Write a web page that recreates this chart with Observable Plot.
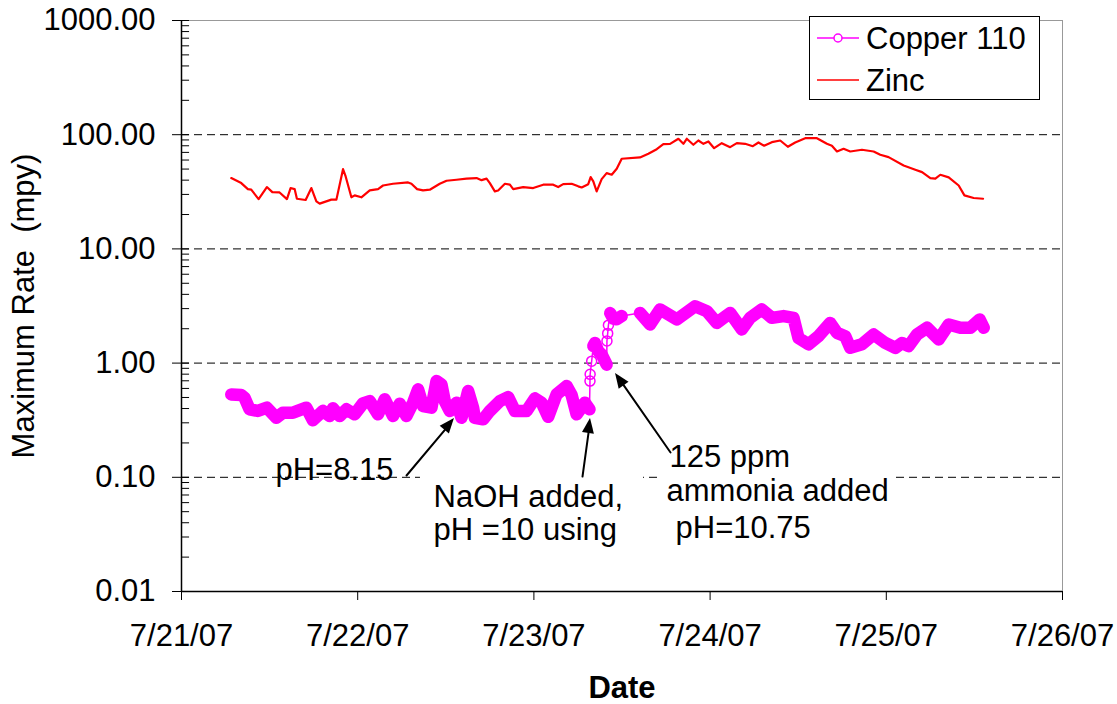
<!DOCTYPE html>
<html><head><meta charset="utf-8">
<script src="https://cdn.jsdelivr.net/npm/d3@7"></script>
<script src="https://cdn.jsdelivr.net/npm/@observablehq/plot@0.6"></script>
<style>body{margin:0;background:#fff} svg{display:block}</style>
</head><body><div id="chart"></div>
<script>
// Time origin: 7/21/07 00:00; series positions are hours after it.
const startMs = Date.UTC(2007, 6, 21);
const dayTicks = ["2007-07-21", "2007-07-22", "2007-07-23", "2007-07-24", "2007-07-25", "2007-07-26"];
const yTicks = [0.01, 0.1, 1, 10, 100, 1000];
const gridValues = [0.1, 1, 10, 100];
const seriesNames = ["Copper 110", "Zinc"];

// Zinc: [hours, mpy]
const zinc = [[6.78,41.7],[8.14,37.7],[9.04,33.4],[9.50,33.0],[10.50,27.3],[11.63,34.8],[12.37,31.4],[13.36,31.2],[14.36,27.3],[14.86,34.1],[15.41,33.4],[15.72,27.5],[16.91,26.8],[17.69,34.1],[18.37,26.1],[18.82,24.9],[20.41,27.0],[21.10,27.0],[22.00,49.9],[22.36,43.1],[23.14,28.3],[23.59,29.4],[24.50,28.3],[25.64,32.5],[26.77,33.4],[27.45,35.9],[28.81,37.2],[30.86,38.2],[31.32,37.2],[32.09,33.4],[32.90,32.5],[33.82,33.0],[35.18,37.2],[36.10,39.5],[37.46,40.3],[38.82,41.2],[40.19,41.7],[40.87,40.0],[41.55,41.2],[42.00,37.7],[42.68,31.9],[43.13,32.5],[44.05,37.2],[44.73,36.5],[45.18,33.4],[46.54,34.8],[47.90,34.1],[49.27,36.5],[50.63,36.5],[51.31,34.8],[51.99,36.9],[53.14,37.2],[54.04,35.3],[54.50,34.5],[55.40,36.9],[55.73,42.5],[56.09,39.0],[56.55,31.9],[57.23,40.8],[57.91,46.1],[58.60,44.6],[59.28,50.3],[59.96,61.6],[62.45,63.2],[63.59,68.1],[64.73,74.7],[65.63,82.6],[66.55,83.2],[67.68,92.1],[68.36,83.2],[68.82,92.1],[69.72,81.6],[70.40,89.0],[71.09,83.2],[71.77,87.2],[72.55,76.2],[73.59,84.3],[74.73,77.8],[75.64,84.3],[76.77,83.2],[77.82,79.3],[78.59,85.5],[79.36,80.0],[80.41,86.0],[81.55,89.0],[82.59,78.4],[83.59,85.5],[84.95,93.2],[86.55,93.2],[87.91,83.2],[88.59,80.0],[89.28,71.3],[90.18,75.3],[91.09,71.3],[92.68,73.8],[94.27,71.3],[95.18,66.7],[96.31,63.6],[98.36,53.8],[99.95,49.3],[100.87,47.0],[102.00,41.7],[102.68,41.2],[103.36,44.6],[104.50,42.3],[105.86,35.9],[106.64,29.4],[107.90,27.9],[109.18,27.5]];

// Copper 110: dense stretches (markers overlap into a band) and sparse jump points
const copperSegA = [[6.78,0.532],[8.14,0.525],[8.59,0.497],[9.27,0.394],[10.40,0.381],[11.63,0.407],[12.91,0.332],[13.81,0.368],[15.18,0.368],[17.00,0.407],[17.90,0.316],[19.27,0.381],[20.18,0.344],[20.63,0.402],[21.55,0.344],[22.46,0.394],[23.59,0.356],[24.72,0.444],[25.64,0.465],[26.77,0.356],[27.68,0.482],[28.81,0.344],[29.73,0.441],[30.64,0.344],[31.54,0.450],[32.22,0.589],[32.90,0.421],[34.05,0.407],[34.73,0.696],[35.41,0.651],[35.86,0.465],[36.54,0.381],[37.46,0.450],[38.14,0.332],[39.04,0.569],[39.72,0.407],[39.95,0.332],[41.09,0.322],[42.00,0.381],[43.36,0.465],[44.49,0.504],[45.41,0.381],[47.00,0.381],[48.14,0.491],[49.05,0.450],[49.95,0.339],[51.09,0.532],[52.46,0.630],[53.14,0.525],[53.82,0.356],[54.95,0.450],[55.57,0.394]];
const copperJump1 = [[55.64,0.696],[55.66,0.797],[55.87,1.04]];
const copperSegB = [[56.09,1.41],[56.32,1.50],[56.77,1.27],[57.23,1.19],[57.91,0.97]];
const copperJump2 = [[57.95,1.56],[58.05,1.82],[58.15,2.15]];
const copperSegC = [[58.40,2.74],[58.80,2.45],[59.28,2.42],[59.96,2.58]];
const copperSegD = [[62.45,2.75],[63.82,2.18],[65.18,2.95],[67.46,2.41],[69.95,3.15],[71.55,2.85],[72.91,2.25],[74.73,2.75],[76.32,1.97],[77.45,2.49],[79.05,2.95],[80.41,2.49],[82.00,2.58],[83.36,2.49],[84.04,1.66],[85.40,1.46],[86.77,1.72],[88.36,2.25],[89.28,1.84],[90.41,1.72],[91.09,1.36],[92.68,1.46],[94.27,1.78],[95.86,1.50],[97.23,1.36],[98.14,1.50],[99.04,1.41],[100.18,1.78],[101.55,2.04],[103.13,1.61],[104.50,2.18],[106.09,2.04],[107.45,2.04],[108.72,2.41],[109.27,2.04]];

// Annotations: [hours, mpy, text]
const noteTexts = [[12.80,0.0956,"pH=8.15"],[34.33,0.0555,"NaOH added,"],[34.33,0.0285,"pH =10 using"],[66.47,0.1243,"125 ppm"],[66.06,0.0626,"ammonia added"],[67.29,0.0297,"pH=10.75"]];
// White text boxes behind two notes: [hours1, hours2, mpyTop, mpyBottom]
const noteBoxes = [[32.55,62.93,0.1194,0.02195],[65.24,97.25,0.2231,0.02195]];
// Arrows: [tailHours, tailMpy, headHours, headMpy]
const noteArrows = [[30.65,0.1037,37.18,0.327],[54.62,0.1016,55.71,0.327],[66.61,0.1649,59.12,0.811]];

const t = h => new Date(startMs + h * 3600e3);
const rows = (arr, seg) => arr.map(([h, v]) => ({date: t(h), value: v, seg}));
const zincRows = rows(zinc);
const denseRows = [...rows(copperSegA,"A"), ...rows(copperSegB,"B"), ...rows(copperSegC,"C"), ...rows(copperSegD,"D")];
const openRows = [...rows(copperJump1), ...rows(copperJump2)];
const copperAll = [...copperSegA, ...copperJump1, ...copperSegB, ...copperJump2, ...copperSegC, ...copperSegD].map(([h,v]) => ({date: t(h), value: v}));
const minorTicks = [];
for (let e = -2; e <= 2; e++) for (let k = 1; k <= 9; k++) minorTicks.push(k * Math.pow(10, e));
minorTicks.push(1000);

const FONT = "'Liberation Sans', Arial, Helvetica, sans-serif";
const plot = Plot.plot({
  width: 1117, height: 704,
  marginLeft: 181, marginRight: 55, marginTop: 20, marginBottom: 113,
  style: {fontFamily: FONT, fontSize: "31px", color: "#000", background: "#fff"},
  x: {type: "utc", domain: [new Date(startMs), t(120)]},
  y: {type: "log", domain: [0.01, 1000]},
  marks: [
    Plot.ruleY(gridValues, {stroke: "#000", strokeWidth: 1, strokeDasharray: "8,5"}),
    Plot.frame({stroke: "#999"}),
    Plot.ruleY(minorTicks, {x1: t(0), x2: t(1.1), stroke: "#000", strokeWidth: 1}),
    Plot.axisY(yTicks, {tickSize: 9, tickPadding: 17, tickFormat: d3.format(".2f"), label: null, stroke: "#000"}),
    Plot.axisX(dayTicks.map(d => new Date(d + "T00:00:00Z")), {tickSize: 9, tickPadding: 23, tickFormat: d3.utcFormat("%-m/%d/%y"), label: null, stroke: "#000"}),
    Plot.ruleX([t(0)], {stroke: "#000", strokeWidth: 1.5}),
    Plot.ruleY([0.01], {stroke: "#000", strokeWidth: 1.5}),
    Plot.line(zincRows, {x: "date", y: "value", stroke: "#ff0000", strokeWidth: 2.2}),
    Plot.line(copperAll, {x: "date", y: "value", stroke: "#ff00ff", strokeWidth: 1.5}),
    Plot.line(denseRows, {x: "date", y: "value", z: "seg", stroke: "#ff00ff", strokeWidth: 12.5, strokeLinecap: "round", strokeLinejoin: "round"}),
    Plot.dot(openRows, {x: "date", y: "value", r: 5, stroke: "#ff00ff", strokeWidth: 1.5, fill: "none"}),
    Plot.rect(noteBoxes, {x1: d => t(d[0]), x2: d => t(d[1]), y1: d => d[2], y2: d => d[3], fill: "#fff"}),
    Plot.arrow(noteArrows, {x1: d => t(d[0]), y1: d => d[1], x2: d => t(d[2]), y2: d => d[3], stroke: "#000", strokeWidth: 2, headLength: 0, insetEnd: 8}),
    Plot.text(noteTexts, {x: d => t(d[0]), y: d => d[1], text: d => d[2], textAnchor: "start", lineAnchor: "bottom", fontSize: 31, fill: "#000"}),
    Plot.text(["Maximum Rate  (mpy)"], {frameAnchor: "left", textAnchor: "middle", dx: -148, rotate: -90, lineAnchor: "bottom", fontSize: 31, fill: "#000"}),
    Plot.text(["Date"], {frameAnchor: "bottom", dy: 106, lineAnchor: "bottom", fontSize: 31, fontWeight: "bold", fill: "#000"})
  ]
});
document.getElementById("chart").appendChild(plot);

const svg = d3.select(plot);
const sx = plot.scale("x"), sy = plot.scale("y");
// Filled arrowheads, placed through the plot's own scales
const heads = svg.append("g").attr("fill", "#000");
noteArrows.forEach(([h1, v1, h2, v2]) => {
  const x1 = sx.apply(t(h1)), y1 = sy.apply(v1), x2 = sx.apply(t(h2)), y2 = sy.apply(v2);
  const L = Math.hypot(x2 - x1, y2 - y1), ux = (x2 - x1) / L, uy = (y2 - y1) / L;
  const len = 15, w = 6;
  const bx = x2 - ux * len, by = y2 - uy * len;
  heads.append("polygon").attr("points", [[x2, y2], [bx - uy * w, by + ux * w], [bx + uy * w, by - ux * w]].map(p => p.join(",")).join(" "));
});

// Legend box
const lg = svg.append("g").attr("font-family", FONT).attr("font-size", 31).attr("text-anchor", "start");
lg.append("rect").attr("x", 809.5).attr("y", 16.5).attr("width", 230).attr("height", 83).attr("fill", "#fff").attr("stroke", "#000");
const rowsY = [38, 80], colors = ["#ff00ff", "#ff0000"];
seriesNames.forEach((name, i) => {
  lg.append("line").attr("x1", 817).attr("x2", 859).attr("y1", rowsY[i]).attr("y2", rowsY[i]).attr("stroke", colors[i]).attr("stroke-width", 1.5);
  if (i === 0) lg.append("circle").attr("cx", 838).attr("cy", rowsY[i]).attr("r", 4).attr("fill", "#fff").attr("stroke", colors[i]).attr("stroke-width", 1.5);
  lg.append("text").attr("x", 866).attr("y", rowsY[i] + 11).attr("fill", "#000").text(name);
});
</script>
</body></html>
